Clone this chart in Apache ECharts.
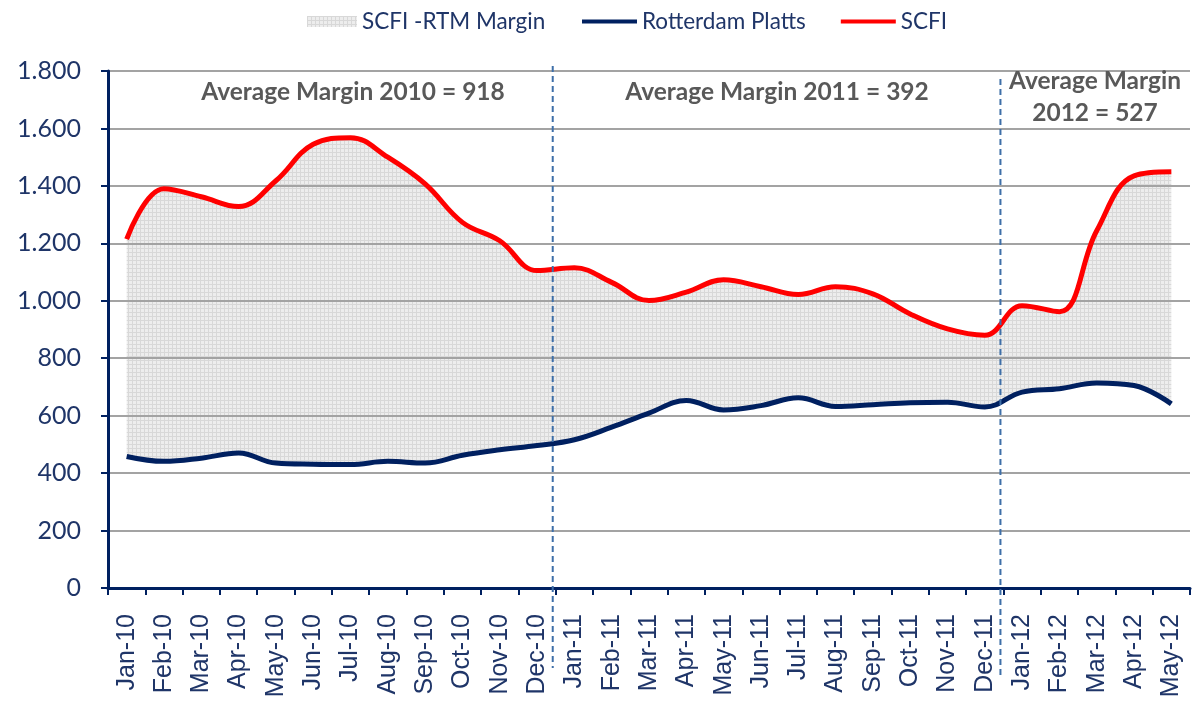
<!DOCTYPE html>
<html>
<head>
<meta charset="utf-8">
<script src="https://cdn.jsdelivr.net/npm/echarts@6/dist/echarts.min.js"></script>
<style>
  html, body { margin: 0; padding: 0; background: #fff; }
  #main { width: 1201px; height: 705px; }
</style>
</head>
<body>
<div id="main"></div>
<script>
// months on the x axis
const months = ['Jan-10', 'Feb-10', 'Mar-10', 'Apr-10', 'May-10', 'Jun-10', 'Jul-10', 'Aug-10', 'Sep-10', 'Oct-10', 'Nov-10', 'Dec-10',
  'Jan-11', 'Feb-11', 'Mar-11', 'Apr-11', 'May-11', 'Jun-11', 'Jul-11', 'Aug-11', 'Sep-11', 'Oct-11', 'Nov-11', 'Dec-11',
  'Jan-12', 'Feb-12', 'Mar-12', 'Apr-12', 'May-12'];
// SCFI index
const scfi = [1215, 1390, 1362, 1328, 1418, 1545, 1568, 1500, 1407, 1273, 1209, 1105,
  1115, 1064, 1001, 1030, 1073, 1049, 1022, 1049, 1024, 954, 902, 880,
  983, 962, 1244, 1435, 1449];
// Rotterdam Platts
const rtm = [458, 441, 452, 470, 435, 431, 430, 441, 435, 462, 481, 496,
  516, 560, 609, 653, 620, 635, 662, 632, 638, 645, 647, 630,
  682, 694, 714, 705, 641];
// yearly averages shown as text
const avgLabels = ['Average Margin 2010 = 918', 'Average Margin 2011 = 392', 'Average Margin\n2012 = 527'];

const margin = scfi.map((v, i) => v - rtm[i]);

const navy = '#002060';
const labelColor = '#1F3568';

// little grid pattern for the margin area
const pat = document.createElement('canvas');
pat.width = 4; pat.height = 4;
const g = pat.getContext('2d');
g.fillStyle = '#ededed'; g.fillRect(0, 0, 4, 4);
g.fillStyle = '#d8d8d8'; g.fillRect(0, 0, 4, 1); g.fillRect(0, 0, 1, 4);
const patFill = { image: pat, repeat: 'repeat' };

const fmt = v => String(v).replace(/\B(?=(\d{3})+(?!\d))/g, '.');

const chart = echarts.init(document.getElementById('main'));
const option = {
  animation: false,
  grid: { left: 108, right: 11, top: 71, bottom: 117 },
  legend: [
    {
      data: [{ name: 'SCFI -RTM Margin', itemStyle: { color: patFill } }],
      left: 302, top: 5, icon: 'rect', itemWidth: 50, itemHeight: 11,
      textStyle: { fontFamily: 'Lato', fontSize: 22.5, color: labelColor }
    },
    {
      data: ['Rotterdam Platts', 'SCFI'],
      left: 577, top: 5, icon: 'rect', itemWidth: 55, itemHeight: 4, itemGap: 35,
      textStyle: { fontFamily: 'Lato', fontSize: 22.5, color: labelColor }
    }
  ],
  xAxis: {
    type: 'category',
    data: months,
    boundaryGap: true,
    z: 3,
    axisLine: { lineStyle: { color: navy, width: 3 } },
    axisTick: { show: true, interval: 0, length: 7, lineStyle: { color: navy, width: 2 } },
    axisLabel: {
      interval: 0, rotate: 90, margin: 26,
      fontFamily: 'Liberation Sans', fontSize: 25, color: labelColor
    }
  },
  yAxis: {
    type: 'value',
    min: 0, max: 1800, interval: 200,
    z: 3,
    axisLine: { show: true, lineStyle: { color: navy, width: 3 } },
    axisTick: { show: true, length: 7, lineStyle: { color: navy, width: 2 } },
    axisLabel: { margin: 27, fontFamily: 'Lato', fontSize: 25, color: labelColor, formatter: fmt },
    splitLine: { lineStyle: { color: '#a3a3a3', width: 2 } }
  },
  series: [
    {
      // invisible base for the stacked margin band
      name: 'base', type: 'line', data: rtm, stack: 'm', smooth: 0.4,
      symbol: 'none', silent: true, lineStyle: { width: 0, opacity: 0 }, z: 1
    },
    {
      name: 'SCFI -RTM Margin', type: 'line', data: margin, stack: 'm', smooth: 0.4,
      symbol: 'none', silent: true, color: '#e0e0e0',
      lineStyle: { width: 0, opacity: 0 }, areaStyle: { color: patFill, opacity: 1 }, z: 1
    },
    {
      name: 'Rotterdam Platts', type: 'line', data: rtm, smooth: 0.4, symbol: 'none',
      color: navy, lineStyle: { color: navy, width: 5 }, z: 5
    },
    {
      name: 'SCFI', type: 'line', data: scfi, smooth: 0.4, symbol: 'none',
      color: '#ff0000', lineStyle: { color: '#ff0000', width: 5 }, z: 5
    }
  ]
};
chart.setOption(option);

// year separators sit between Dec and Jan
const sep = (a, b) => (chart.convertToPixel({ xAxisIndex: 0 }, a) + chart.convertToPixel({ xAxisIndex: 0 }, b)) / 2 - 3;
const x1 = sep('Dec-10', 'Jan-11');
const x2 = sep('Dec-11', 'Jan-12');
const dash = { stroke: '#3E6FA8', lineWidth: 2, lineDash: [6, 4] };
const txt = { fontFamily: 'Lato', fontSize: 24.5, fontWeight: 'bold', fill: '#595959', align: 'center', verticalAlign: 'middle' };

chart.setOption({
  graphic: [
    { type: 'line', shape: { x1: x1, y1: 66, x2: x1, y2: 668 }, style: dash, z: 10 },
    { type: 'line', shape: { x1: x2, y1: 79, x2: x2, y2: 675 }, style: dash, z: 10 },
    { type: 'text', x: 353, y: 92, style: Object.assign({ text: avgLabels[0] }, txt), z: 10 },
    { type: 'text', x: 777, y: 92, style: Object.assign({ text: avgLabels[1] }, txt), z: 10 },
    { type: 'text', x: 1095, y: 97, style: Object.assign({ text: avgLabels[2], lineHeight: 32 }, txt), z: 10 }
  ]
});
</script>
</body>
</html>
